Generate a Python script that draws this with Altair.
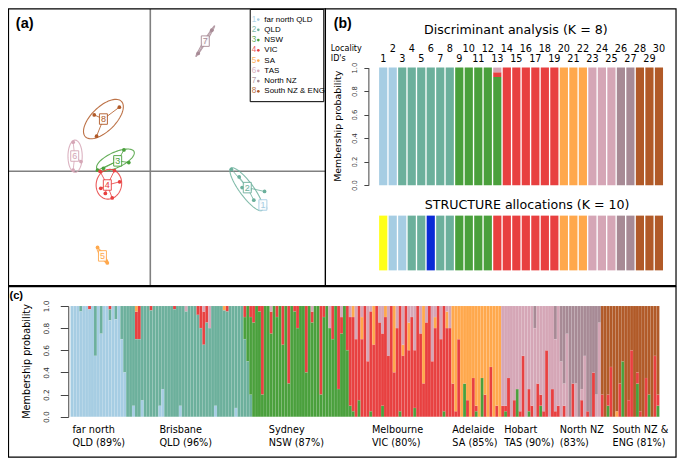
import altair as alt
import numpy as np
import pandas as pd

# ---------------------------------------------------------------- layout helpers
W, H = 669, 450
def X(px):
    return round(px * W / 685.0, 2)
def Y(py):
    return round(py * H / 466.0, 2)
FS = 0.97
SANS = "DejaVu Sans"
ARIAL = "Liberation Sans"

# ---------------------------------------------------------------- data
GROUPS = ["far north QLD", "QLD", "NSW", "VIC", "SA", "TAS", "North NZ", "South NZ & ENG"]
PALETTE = ["#a6cde3", "#6cb09c", "#4aa03c", "#e84040", "#ffa84c", "#d5a6b6", "#a78a95", "#b15a28"]
EXTRA = {"Y": "#ffff1a", "B": "#0a2bd6"}

# (a) discriminant scatter: group centroids, localities, inertia ellipses
CENT_X = [11.53, 9.93, -3.34, -4.40, -4.90, -7.74, 5.63, -4.80]
CENT_Y = [-3.50, -1.70, 1.07, -1.43, -8.77, 1.57, 13.47, 5.40]
LOC_GROUP = [1, 1, 2, 2, 2, 2, 2, 2, 3, 3, 3, 3, 3, 4, 4, 4, 4, 4, 4, 5, 5, 5, 6, 6, 6, 7, 7, 8, 8, 8]
LOC_X = [11.3, 11.8, 8.3, 9.1, 9.4, 11.7, 10.6, 10.2, -2.7, -2.2, -5.4, -4.8, -3.6,
         -5.14, -3.67, -3.14, -3.9, -5.07, -4.6, -5.4, -4.5, -4.4, -7.9, -7.1, -7.9,
         4.9, 6.3, -5.74, -3.17, -5.5]
LOC_Y = [-3.2, -3.8, 0.2, -0.6, -1.7, -2.1, -3.0, -1.9, 2.2, 0.9, 0.1, 0.3, 1.3,
         -0.03, 0.07, -1.1, -2.77, -1.77, -2.3, -7.9, -9.3, -9.5, 3.0, 1.0, 0.1,
         12.2, 14.6, 5.83, 6.63, 3.63]
ELL_CX = [11.55, 9.85, -3.57, -4.24, -4.90, -7.70, 5.63, -4.80]
ELL_CY = [-3.50, -1.87, 1.15, -1.35, -8.75, 1.55, 13.47, 5.40]
ELL_A = [0.35, 2.70, 2.10, 1.55, 0.95, 1.67, 1.85, 2.60]
ELL_B = [0.15, 0.72, 0.80, 1.30, 0.18, 0.73, 0.12, 1.25]
ELL_ANG = [-50, -54, 25, 80, -56, 90, 59, 45]
AX_XDOM = [-14.57, 17.93]
AX_YDOM = [-11.85, 16.8]

# (b) discriminant analysis per locality and STRUCTURE allocation
DA_ID = list(range(1, 31))
DA_MIX = {13: {3: 0.92, 4: 0.04, 6: 0.04}}
ST_CLUSTER = ["Y", "1", "1", "2", "2", "B", "2", "2", "3", "3", "3", "3", "4", "4", "4",
              "4", "4", "4", "4", "5", "5", "5", "6", "6", "6", "7", "7", "8", "8", "8"]
PROB_TICKS = [0.0, 0.2, 0.4, 0.6, 0.8, 1.0]

# (c) individual membership probabilities (minor components; rest = own cluster)
FNQ = ["", "", "", "2:.05", "", "", "4:.03", "", "2:.45", "", "2:.25", "", "",
       "4:.03 2:.1", "", "2:.12", "", "2:.3", "2:.6"]
BNE = ["", "", "1:.1", "4:.25 5:.05", "4:.3", "1:.15", "", "", "4:.04", "", "", "1:.1",
       "1:.25", "", "", "", "4:.03", "", "1:.1", "", "6:.05", "", "", "", "4:.08", "4:.2",
       "4:.3 6:.05", "4:.15", "6:.2", "", "1:.1", "", "", "5:.04", "4:.05", "", "",
       "1:.08", "", "", "3:.2 4:.1", "3:.5"]
SYD = ["2:.2 4:.1", "4:.15", "", "4:.05", "4:.8", "", "", "4:.2 6:.05", "", "4:.1", "",
       "4:.35", "", "4:.7", "", "4:.05", "4:.2", "", "", "4:.6", "", "4:.1 6:.05", "", "",
       "4:.8", "4:.1", "", "6:.2", "4:.3", "", "4:.75", "4:.15 6:.1", "", "4:.4"]
MEL = ["3:.1 6:.1", "3:.05 5:.1", "6:.3", "3:.15", "5:.2 6:.1", "", "6:.5", "3:.05 6:.05",
       "5:.35", "", "6:.15", "3:.1 6:.25", "5:.1", "6:.45", "", "5:.6", "6:.2", "3:.05",
       "5:.1 6:.35", "", "5:.25 6:.15", "6:.1", "3:.08 6:.4", "", "6:.25", "5:.7", "6:.15",
       "", "6:.5", "5:.1 6:.1", "", "6:.3", "3:.05", "5:.15 6:.05", "6:.2"]
ADL = ["4:.3", "4:.05", "4:.7", "", "3:.3", "4:.15", "", "4:.35", "3:.05 4:.05", "",
       "3:.35", "4:.2", "", "4:.45", "", "4:.1", ""]
HOB = ["4:.1", "3:.05 4:.05", "4:.35", "", "4:.15", "3:.25", "4:.05", "4:.55", "",
       "3:.05 4:.2", "4:.1", "7:.2", "4:.3", "3:.1 4:.1", "4:.05", "4:.6", "", "4:.25",
       "4:.05 7:.3", "4:.1"]
NNZ = ["6:.5", "4:.1 6:.2", "6:.75", "", "4:.3", "6:.3", "", "4:.15 6:.1", "6:.55",
       "4:.05", "", "4:.4", "6:.2", "6:.85"]
SNZ = ["4:.2", "", "3:.1 4:.1", "4:.45", "", "5:.05", "4:.3", "3:.5", "", "4:.15", "4:.6",
       "", "3:.3 4:.1", "4:.05", "", "4:.35", "3:.2", "", "4:.55", "3:.1 4:.1"]
POPS = [FNQ, BNE, SYD, MEL, ADL, HOB, NNZ, SNZ]
POP_LINE1 = ["far north", "Brisbane", "Sydney", "Melbourne", "Adelaide", "Hobart", "North NZ", "South NZ &"]
POP_LINE2 = ["QLD (89%)", "QLD (96%)", "NSW (87%)", "VIC (80%)", "SA (85%)", "TAS (90%)", "(83%)", "ENG (81%)"]
POP_LABEL_X = [66, 155, 267, 372.7, 455, 508, 565, 619]   # label anchor positions (layout)

# ---------------------------------------------------------------- helpers
def label(txt, x, y, size, font=SANS, weight="normal", align="left", color="black",
          angle=0, baseline="middle"):
    return alt.Chart(pd.DataFrame({"t": [txt]})).mark_text(
        font=font, fontSize=size * FS, fontWeight=weight, align=align,
        baseline=baseline, color=color, angle=angle
    ).encode(x=alt.value(X(x)), y=alt.value(Y(y)), text="t:N")

def frame(x0, y0, x1, y1, w=1.2):
    return alt.Chart(pd.DataFrame({"k": [0]})).mark_rect(
        fill="transparent", stroke="black", strokeWidth=w
    ).encode(x=alt.value(X(x0)), x2=alt.value(X(x1)), y=alt.value(Y(y0)), y2=alt.value(Y(y1)))

def parse(s, own):
    parts = {}
    for tok in s.split():
        k, f = tok.split(":")
        parts[int(k)] = float(f)
    parts[own] = round(1.0 - sum(parts.values()), 4)
    return parts

layers = []

# ================================================================ panel (a)
ax_x = alt.Scale(domain=AX_XDOM, range=[X(0), X(325)], zero=False, nice=False)
ax_y = alt.Scale(domain=AX_YDOM, range=[Y(287.5), Y(1)], zero=False, nice=False)

cv = pd.DataFrame({"x": [0.0], "y": [AX_YDOM[0]], "y2": [AX_YDOM[1]]})
layers.append(alt.Chart(cv).mark_rule(color="#808080", strokeWidth=1.6).encode(
    x=alt.X("x:Q", scale=ax_x, axis=None), y=alt.Y("y:Q", scale=ax_y, axis=None), y2="y2:Q"))
ch = pd.DataFrame({"y": [0.0], "x": [AX_XDOM[0]], "x2": [AX_XDOM[1]]})
layers.append(alt.Chart(ch).mark_rule(color="#808080", strokeWidth=1.6).encode(
    x=alt.X("x:Q", scale=ax_x, axis=None), x2="x2:Q", y=alt.Y("y:Q", scale=ax_y, axis=None)))

rows = []
t = np.linspace(0, 2 * np.pi, 73)
for gi in range(8):
    th = np.radians(ELL_ANG[gi])
    ex = ELL_CX[gi] + ELL_A[gi] * np.cos(t) * np.cos(th) - ELL_B[gi] * np.sin(t) * np.sin(th)
    ey = ELL_CY[gi] + ELL_A[gi] * np.cos(t) * np.sin(th) + ELL_B[gi] * np.sin(t) * np.cos(th)
    for k in range(len(t)):
        rows.append({"g": gi + 1, "k": k, "x": float(ex[k]), "y": float(ey[k]), "col": PALETTE[gi]})
ell = pd.DataFrame(rows)
layers.append(alt.Chart(ell).mark_line(strokeWidth=1.1, opacity=0.85).encode(
    x=alt.X("x:Q", scale=ax_x, axis=None), y=alt.Y("y:Q", scale=ax_y, axis=None),
    order="k:Q", detail="g:N", color=alt.Color("col:N", scale=None)))

star = pd.DataFrame({"g": LOC_GROUP, "px": LOC_X, "py": LOC_Y})
star["cx"] = [CENT_X[g - 1] for g in LOC_GROUP]
star["cy"] = [CENT_Y[g - 1] for g in LOC_GROUP]
star["col"] = [PALETTE[g - 1] for g in LOC_GROUP]
layers.append(alt.Chart(star).mark_rule(strokeWidth=0.9, opacity=0.9).encode(
    x=alt.X("cx:Q", scale=ax_x, axis=None), y=alt.Y("cy:Q", scale=ax_y, axis=None),
    x2="px:Q", y2="py:Q", color=alt.Color("col:N", scale=None)))
layers.append(alt.Chart(star).mark_circle(size=14, opacity=1).encode(
    x=alt.X("px:Q", scale=ax_x, axis=None), y=alt.Y("py:Q", scale=ax_y, axis=None),
    color=alt.Color("col:N", scale=None)))

cent = pd.DataFrame({"g": [str(i) for i in range(1, 9)], "x": CENT_X, "y": CENT_Y, "col": PALETTE})
layers.append(alt.Chart(cent).mark_point(
    shape="M-0.76,-1H0.76V1H-0.76Z", size=110, fill="white", fillOpacity=1, strokeWidth=1, opacity=0.9
).encode(x=alt.X("x:Q", scale=ax_x, axis=None), y=alt.Y("y:Q", scale=ax_y, axis=None),
         stroke=alt.Stroke("col:N", scale=None)))
layers.append(alt.Chart(cent).mark_text(font=ARIAL, fontSize=9).encode(
    x=alt.X("x:Q", scale=ax_x, axis=None), y=alt.Y("y:Q", scale=ax_y, axis=None),
    text="g:N", color=alt.Color("col:N", scale=None)))

# legend of (a)
layers.append(alt.Chart(pd.DataFrame({"k": [0]})).mark_rect(
    fill="white", stroke="black", strokeWidth=1).encode(
    x=alt.value(X(248)), x2=alt.value(X(323.3)), y=alt.value(Y(1.5)), y2=alt.value(Y(97))))
leg = pd.DataFrame({"i": list(range(8)), "num": [str(i) for i in range(1, 9)],
                    "name": GROUPS, "col": PALETTE})
ly = alt.Y("i:O", scale=alt.Scale(type="point", domain=list(range(8)), range=[Y(12), Y(86.3)], padding=0), axis=None)
layers.append(alt.Chart(leg).mark_text(font=ARIAL, fontSize=8.4 * FS, align="center", opacity=0.85).encode(
    x=alt.value(X(251.8)), y=ly, text="num:N", color=alt.Color("col:N", scale=None)))
layers.append(alt.Chart(leg).mark_circle(size=7, opacity=1).encode(
    x=alt.value(X(256.3)), y=ly, color=alt.Color("col:N", scale=None)))
layers.append(alt.Chart(leg).mark_text(font=ARIAL, fontSize=8.2 * FS, align="left", color="black").encode(
    x=alt.value(X(262.5)), y=ly, text="name:N"))

# ================================================================ panel (b)
bx = alt.Scale(type="band", domain=DA_ID, range=[X(380), X(670.7)], paddingInner=0.14, paddingOuter=0)
rows = []
for lid, g in zip(DA_ID, LOC_GROUP):
    mix = DA_MIX.get(lid, {g: 1.0})
    for k, f in mix.items():
        rows.append({"id": lid, "k": k, "frac": f, "col": PALETTE[k - 1]})
da = pd.DataFrame(rows)
by_top = alt.Scale(domain=[0, 1], range=[Y(183.5), Y(61.7)], zero=True, nice=False)
layers.append(alt.Chart(da).mark_bar().encode(
    x=alt.X("id:O", scale=bx, axis=None),
    y=alt.Y("frac:Q", stack="zero", scale=by_top,
            axis=alt.Axis(orient="left", offset=-X(369), values=PROB_TICKS, format=".1f",
                          labelAngle=270, labelAlign="center", labelBaseline="bottom",
                          labelFont=SANS, labelFontSize=6.8, labelPadding=6, labelColor="#333",
                          labelFlush=False, tickSize=4.5, tickColor="#444", domainColor="#444",
                          grid=False, title="")),
    order=alt.Order("k:Q"), color=alt.Color("col:N", scale=None)))

st = pd.DataFrame({"id": DA_ID, "v": [1.0] * 30,
                   "col": [EXTRA[c] if c in EXTRA else PALETTE[int(c) - 1] for c in ST_CLUSTER]})
by_bot = alt.Scale(domain=[0, 1], range=[Y(271.7), Y(215)], zero=True, nice=False)
layers.append(alt.Chart(st).mark_bar().encode(
    x=alt.X("id:O", scale=bx, axis=None), y=alt.Y("v:Q", scale=by_bot, axis=None),
    color=alt.Color("col:N", scale=None)))

ids = pd.DataFrame({"id": DA_ID, "txt": [str(i) for i in DA_ID]})
layers.append(alt.Chart(ids[ids["id"] % 2 == 0]).mark_text(font=SANS, fontSize=10 * FS).encode(
    x=alt.X("id:O", scale=bx, axis=None), y=alt.value(Y(42.8)), text="txt:N"))
layers.append(alt.Chart(ids[ids["id"] % 2 == 1]).mark_text(font=SANS, fontSize=10 * FS).encode(
    x=alt.X("id:O", scale=bx, axis=None), y=alt.value(Y(53.3)), text="txt:N"))

layers.append(label("Discriminant analysis (K = 8)", 520, 22.7, 13, align="center"))
layers.append(label("STRUCTURE allocations (K = 10)", 531.5, 204, 13, align="center"))
layers.append(label("Locality", 330.5, 42.8, 8.3))
layers.append(label("ID's", 330.5, 52.6, 8.3))
layers.append(label("Membership probability", 337.5, 122.5, 9.7, align="center", angle=270))

# ================================================================ panel (c)
rows = []
i = 0
for own, pop in enumerate(POPS, start=1):
    for s in pop:
        for k, f in parse(s, own).items():
            if f > 0:
                rows.append({"i": i, "k": k, "frac": f, "col": PALETTE[k - 1]})
        i += 1
NC = i
ind = pd.DataFrame(rows)
cxs = alt.Scale(type="band", domain=list(range(NC)), range=[X(64), X(667)], paddingInner=0, paddingOuter=0)
cys = alt.Scale(domain=[0, 1], range=[Y(423.3), Y(308.6)], zero=True, nice=False)
layers.append(alt.Chart(ind).mark_bar(stroke="white", strokeWidth=0.3, strokeOpacity=0.2).encode(
    x=alt.X("i:O", scale=cxs, axis=None),
    y=alt.Y("frac:Q", stack="zero", scale=cys,
            axis=alt.Axis(orient="left", offset=-X(61.7), values=PROB_TICKS, format=".1f",
                          labelAngle=270, labelAlign="center", labelBaseline="bottom",
                          labelFont=SANS, labelFontSize=7.3, labelPadding=10, labelColor="#333",
                          labelFlush=False, tickSize=8, tickColor="#444", domainColor="#444",
                          grid=False, title="")),
    order=alt.Order("k:Q"), color=alt.Color("col:N", scale=None)))
layers.append(label("Membership probability", 19, 366, 10, align="center", angle=270))
for l1, l2, lx in zip(POP_LINE1, POP_LINE2, POP_LABEL_X):
    layers.append(label(l1, lx, 436.5, 10))
    layers.append(label(l2, lx, 450, 10))

# ================================================================ frames and panel tags
layers.append(frame(0.5, 1, 325, 287.5))
layers.append(frame(325, 1, 684, 287.5))
layers.append(frame(0.5, 288.5, 684, 465))
layers.append(label("(a)", 8, 16.5, 15, font=ARIAL, weight="bold"))
layers.append(label("(b)", 333.5, 16.5, 14.5, font=ARIAL, weight="bold"))
layers.append(label("(c)", 1.5, 298, 11.5, font=ARIAL, weight="bold"))

chart = alt.layer(*layers).resolve_scale(x="independent", y="independent").properties(
    width=W, height=H, autosize=alt.AutoSizeParams(type="none"), padding=0
).configure_view(stroke=None)

chart.save("out.html", embed_options={"renderer": "svg", "actions": False})
